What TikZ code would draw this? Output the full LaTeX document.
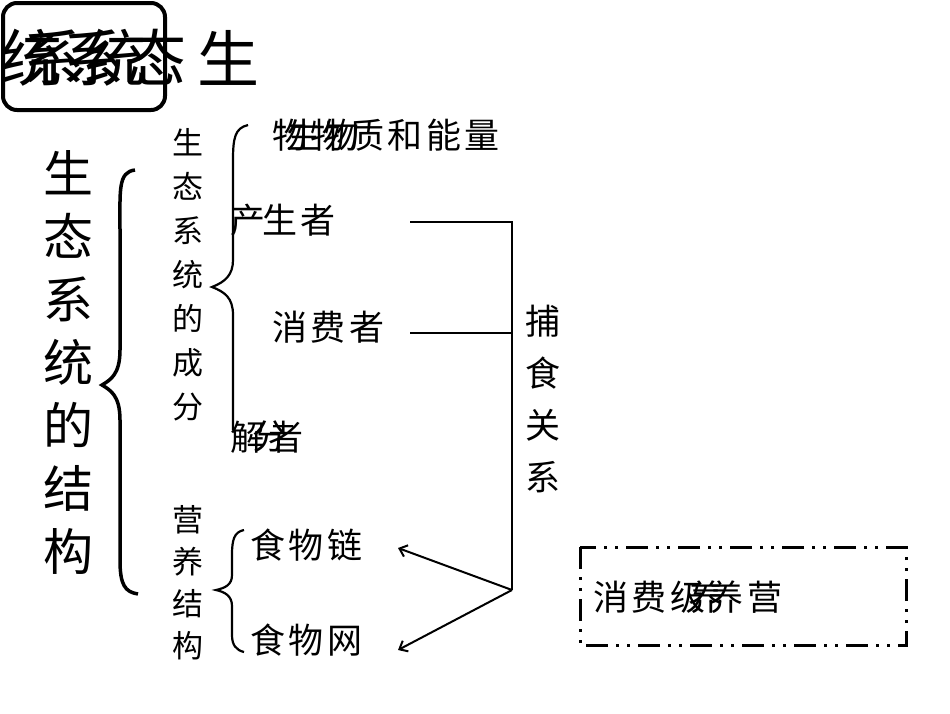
\documentclass[tikz,border=0pt]{standalone}
\usepackage{fontspec}
\setmainfont{Noto Sans CJK SC}[BoldFont={Noto Sans CJK SC Bold}]
\newfontfamily\lsp{Noto Sans CJK SC}[LetterSpace=10]
\usetikzlibrary{arrows.meta}
\begin{document}
\begin{tikzpicture}[x=1pt,y=-1pt,
  lab/.style={inner sep=0pt,anchor=west,font=\lsp\fontsize{35}{35}\selectfont},
  col/.style={inner sep=0pt,anchor=north,align=center},
  ln/.style={line width=2.2pt},
  arr/.style={line width=2pt,-{Straight Barb[length=7pt,width=12pt]}}]
\useasboundingbox (0,0) rectangle (950,713);
% title
\draw[line width=4pt,rounded corners=14pt] (3,3) rectangle (165,110);
\node[inner sep=0pt,anchor=west,font=\fontsize{62}{62}\selectfont] (t1) at (0,58) {统系态};
\node[inner sep=0pt,anchor=west,font=\fontsize{62}{62}\selectfont] (t2) at (22,58) {系统};
\node[inner sep=0pt,anchor=west,font=\fontsize{62}{62}\selectfont] (t3) at (197,58) {生};
% big left column
\node[col,font=\fontsize{50}{63}\selectfont] (big) at (68,150) {生\\态\\系\\统\\的\\结\\构};
\draw[line width=3.5pt] (135,170) .. controls (118,172) and (120,190) .. (120,230) -- (120,350) .. controls (120,375) and (110,380) .. (102,385) .. controls (110,390) and (120,395) .. (120,420) -- (120,560) .. controls (120,585) and (125,592) .. (138,594);
% components column
\node[col,font=\fontsize{31}{44}\selectfont] (cf) at (188,128) {生\\态\\系\\统\\的\\成\\分};
\draw[ln] (248,125) .. controls (235,128) and (233,138) .. (233,160) -- (233,260) .. controls (233,275) and (225,282) .. (212,287) .. controls (225,292) and (233,298) .. (233,315) -- (233,430);
\node[lab] (n1) at (272,135) {物物质和能量};
\node[lab] (n1b) at (286,135) {生物};
\node[lab] (p1) at (230,220) {产};
\node[lab] (p2) at (262,220) {生者};
\node[lab] (c) at (272,327) {消费者};
\node[lab] (d1) at (230,437) {解者};
\node[lab] (d2) at (252,437) {分};
% nutrition structure
\node[col,font=\fontsize{31}{42}\selectfont] (ys) at (188,505) {营\\养\\结\\构};
\draw[ln] (244,530) .. controls (234,532) and (232,540) .. (232,555) -- (232,575) .. controls (232,585) and (225,588) .. (216,590) .. controls (225,592) and (232,596) .. (232,606) -- (232,635) .. controls (232,645) and (236,650) .. (244,652);
\node[lab] (fc) at (250,545) {食物链};
\node[lab] (fw) at (250,640) {食物网};
% predation
\coordinate (a1) at (410,222);
\coordinate (b1) at (512,222);
\coordinate (a2) at (410,333);
\coordinate (b2) at (512,333);
\coordinate (j) at (512,590);
\coordinate (e1) at (398,548);
\coordinate (e2) at (398,650);
\draw[ln] (a1) -- (b1) -- (j);
\draw[ln] (a2) -- (b2);
\node[col,font=\fontsize{35}{52}\selectfont] (bs) at (543,305) {捕\\食\\关\\系};
\draw[arr] (j) -- (e1);
\draw[arr] (j) -- (e2);
% trophic level box
\draw[line width=3pt,dash pattern=on 22pt off 8pt on 3pt off 8pt on 3pt off 8pt] (580,547) rectangle (906,645);
\node[lab] (tl) at (593,597) {消费级养营};
\node[lab] (tl2) at (688,597) {养};
\end{tikzpicture}
\end{document}
